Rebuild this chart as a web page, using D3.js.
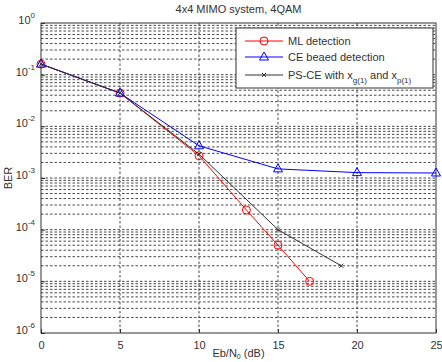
<!DOCTYPE html>
<html><head><meta charset="utf-8">
<script src="https://cdn.jsdelivr.net/npm/d3@7"></script>
<style>body{margin:0;background:#fff}svg{display:block}text{font-family:"Liberation Sans",Arial,sans-serif}</style>
</head><body><svg id="c" width="442" height="362"></svg>
<script>
const xTicks=[0,5,10,15,20,25];
const yTickExp=[0,-1,-2,-3,-4,-5,-6];
const mlX=[0,5,10,13,15,17];
const mlY=[0.16,0.044,0.0027,0.00024,0.00005,0.00001];
const ceX=[0,5,10,15,20,25];
const ceY=[0.16,0.044,0.0042,0.0015,0.00127,0.00125];
const psX=[0,5,10,15,19];
const psY=[0.16,0.044,0.0029,0.0001,0.00002];
const legendLabels=["ML detection","CE beaed detection","PS-CE with x"];

const svg=d3.select("#c");
const L=41,R=436,T=23,B=333;
const x=d3.scaleLinear().domain([0,25]).range([L,R]);
const y=d3.scaleLog().domain([1e-6,1]).range([B,T]);

// grid
const g=svg.append("g");
const minor=[];
for(let e=-6;e<0;e++){for(let m=1;m<10;m++){const v=m*Math.pow(10,e); if(v>1e-6) minor.push(v);}}
g.selectAll("line.h").data(minor).enter().append("line")
 .attr("x1",L).attr("x2",R).attr("y1",d=>y(d)).attr("y2",d=>y(d))
 .attr("stroke","#333").attr("stroke-width",0.9).attr("stroke-dasharray","2.5,2");
g.selectAll("line.v").data(xTicks.slice(1,-1)).enter().append("line")
 .attr("x1",d=>x(d)).attr("x2",d=>x(d)).attr("y1",T).attr("y2",B)
 .attr("stroke","#333").attr("stroke-width",0.9).attr("stroke-dasharray","2.5,2");

// axes
const xa=svg.append("g").attr("transform",`translate(0,${B})`)
 .call(d3.axisBottom(x).tickValues(xTicks).tickSizeInner(-4).tickSizeOuter(0).tickPadding(8));
xa.select(".domain").remove();
xa.selectAll("text").attr("font-size",11).attr("fill","#333");
xa.selectAll("line").attr("stroke","#333");
const ya=svg.append("g").attr("transform",`translate(${L},0)`)
 .call(d3.axisLeft(y).tickValues(yTickExp.map(e=>Math.pow(10,e))).tickSizeInner(-4).tickSizeOuter(0).tickFormat(""));
ya.select(".domain").remove();
ya.selectAll("line").attr("stroke","#333");
yTickExp.forEach(e=>{
  const t=svg.append("text").attr("x",L-6).attr("y",y(Math.pow(10,e))+1).attr("text-anchor","end").attr("font-size",11).attr("fill","#333");
  t.append("tspan").text("10");
  t.append("tspan").attr("dy",-6).attr("font-size",8).text(String(e));
});
svg.append("rect").attr("x",L).attr("y",T).attr("width",R-L).attr("height",B-T).attr("fill","none").attr("stroke","#333").attr("stroke-width",1);

// title & labels
svg.append("text").attr("x",(L+R)/2).attr("y",13).attr("text-anchor","middle").attr("font-size",11).attr("fill","#333").text("4x4 MIMO system, 4QAM");
const xl=svg.append("text").attr("x",(L+R)/2).attr("y",357).attr("text-anchor","middle").attr("font-size",11).attr("fill","#333");
xl.append("tspan").text("Eb/N");
xl.append("tspan").attr("dy",2).attr("font-size",7).text("0");
xl.append("tspan").attr("dy",-2).text(" (dB)");
svg.append("text").attr("transform",`translate(12,${(T+B)/2}) rotate(-90)`).attr("text-anchor","middle").attr("font-size",11).attr("fill","#333").text("BER");

// series
const line=d3.line().x(d=>x(d[0])).y(d=>y(d[1]));
const series=[
 {xs:mlX,ys:mlY,color:"#ff0000",marker:"circle"},
 {xs:ceX,ys:ceY,color:"#0000ff",marker:"triangle"},
 {xs:psX,ys:psY,color:"#333333",marker:"x"}
];
function marker(sel,type,color,cx,cy){
  if(type==="circle") sel.append("circle").attr("cx",cx).attr("cy",cy).attr("r",4).attr("fill","none").attr("stroke",color);
  else if(type==="triangle") sel.append("path").attr("d",`M${cx},${cy-5}L${cx+4.5},${cy+3}L${cx-4.5},${cy+3}Z`).attr("fill","none").attr("stroke",color);
  else sel.append("path").attr("d",`M${cx-2},${cy-2}L${cx+2},${cy+2}M${cx-2},${cy+2}L${cx+2},${cy-2}`).attr("stroke",color);
}
series.forEach(s=>{
  const pts=s.xs.map((v,i)=>[v,s.ys[i]]);
  svg.append("path").datum(pts).attr("d",line).attr("fill","none").attr("stroke",s.color).attr("stroke-width",1);
  const mg=svg.append("g");
  pts.forEach(p=>marker(mg,s.marker,s.color,x(p[0]),y(p[1])));
});

// legend
const lg=svg.append("g");
lg.append("rect").attr("x",236).attr("y",28).attr("width",197).attr("height",60).attr("fill","#fff").attr("stroke","#333");
const ly=[41,57,75];
series.forEach((s,i)=>{
  lg.append("line").attr("x1",245).attr("x2",283).attr("y1",ly[i]).attr("y2",ly[i]).attr("stroke",s.color);
  marker(lg,s.marker,s.color,264,ly[i]);
  const t=lg.append("text").attr("x",288).attr("y",ly[i]+4).attr("font-size",11).attr("fill","#333");
  t.append("tspan").text(legendLabels[i]);
  if(i===2){
    t.append("tspan").attr("dy",4).attr("font-size",8).text("g(1)");
    t.append("tspan").attr("dy",-4).text(" and x");
    t.append("tspan").attr("dy",4).attr("font-size",8).text("p(1)");
  }
});
</script></body></html>
